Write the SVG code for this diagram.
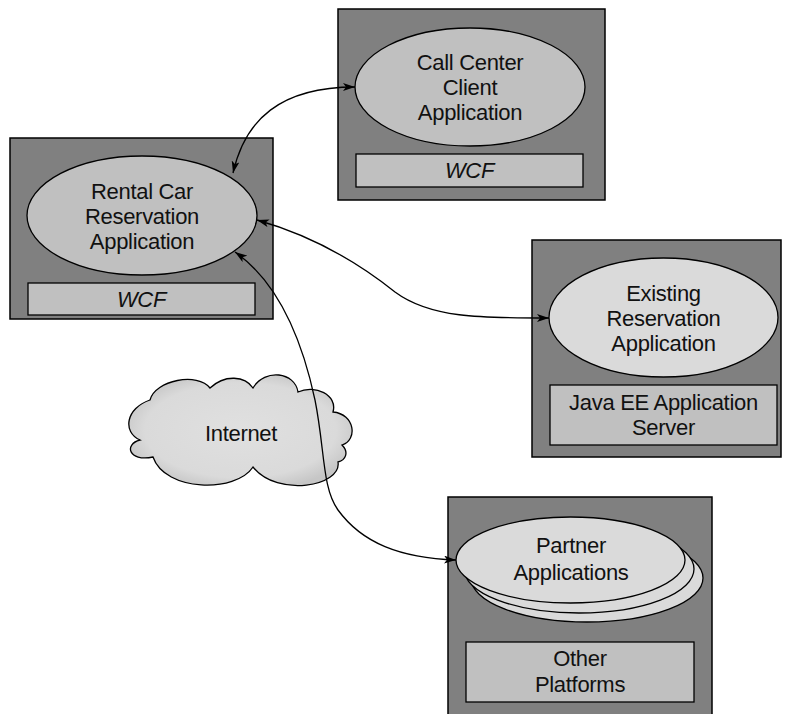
<svg xmlns="http://www.w3.org/2000/svg" width="785" height="714" viewBox="0 0 785 714">
<style>
.box{fill:#808080;stroke:#000;stroke-width:1.5}
.ell{fill:#c0c0c0;stroke:#000;stroke-width:1.3}
.ell2{fill:#dadada;stroke:#000;stroke-width:1.3}
.bar{fill:#c0c0c0;stroke:#000;stroke-width:1.3}
.t{font-family:"Liberation Sans",Arial,sans-serif;font-size:22px;fill:#111;text-anchor:middle;letter-spacing:-0.3px}
.it{font-style:italic}
.conn{fill:none;stroke:#000;stroke-width:1.3;marker-start:url(#ah);marker-end:url(#ah)}
</style>
<defs>
<marker id="ah" viewBox="0 0 12 8" refX="12" refY="4" markerWidth="12" markerHeight="8" orient="auto-start-reverse" markerUnits="userSpaceOnUse">
<path d="M0,0 L12,4 L0,8 L3,4 z" fill="#000"/>
</marker>
<radialGradient id="cloudg" cx="50%" cy="50%" r="55%">
<stop offset="0" stop-color="#e0e0e0"/>
<stop offset="0.78" stop-color="#dadada"/>
<stop offset="1" stop-color="#c6c6c6"/>
</radialGradient>
</defs>

<g id="rental">
<rect class="box" x="10" y="138" width="263" height="181"/>
<ellipse class="ell" cx="142" cy="215.5" rx="115" ry="59.5"/>
<text class="t" x="142" y="198.5">Rental Car</text>
<text class="t" x="142" y="223.5">Reservation</text>
<text class="t" x="142" y="248.5">Application</text>
<rect class="bar" x="28" y="283" width="227" height="32"/>
<text class="t it" x="141.5" y="307">WCF</text>
</g>

<g id="callcenter">
<rect class="box" x="338" y="9" width="267" height="191"/>
<ellipse class="ell" cx="470" cy="87" rx="115" ry="59"/>
<text class="t" x="470" y="70">Call Center</text>
<text class="t" x="470" y="95">Client</text>
<text class="t" x="470" y="120">Application</text>
<rect class="bar" x="356" y="154" width="227" height="33"/>
<text class="t it" x="469.5" y="178">WCF</text>
</g>

<g id="existing">
<rect class="box" x="532" y="240" width="249" height="217"/>
<ellipse class="ell2" cx="663.5" cy="317.5" rx="114.5" ry="59.5"/>
<text class="t" x="663.5" y="300.5">Existing</text>
<text class="t" x="663.5" y="325.5">Reservation</text>
<text class="t" x="663.5" y="350.5">Application</text>
<rect class="bar" x="550" y="385" width="227" height="60"/>
<text class="t" x="663.5" y="410">Java EE Application</text>
<text class="t" x="663.5" y="435">Server</text>
</g>

<g id="partner">
<rect class="box" x="448" y="497" width="264" height="220"/>
<ellipse class="ell2" cx="587" cy="578" rx="116" ry="44"/>
<ellipse class="ell2" cx="579" cy="569" rx="115" ry="44"/>
<ellipse class="ell2" cx="570.5" cy="560" rx="114.5" ry="43"/>
<text class="t" x="571" y="553">Partner</text>
<text class="t" x="571" y="580">Applications</text>
<rect class="bar" x="466" y="642" width="228" height="60"/>
<text class="t" x="580" y="666">Other</text>
<text class="t" x="580" y="692">Platforms</text>
</g>

<g id="internet">
<path d="M140,440 C122,432 126,408 150,400 C155,380 198,372 210,388 C225,374 245,376 253,388 C265,368 295,372 298,392 C315,384 338,395 333,412 C355,414 358,440 342,445 C349,452 346,460 338,462 C342,486 278,498 253,467 C236,493 165,492 153,457 C128,462 124,444 140,440 Z" fill="url(#cloudg)" stroke="#000" stroke-width="1.3"/>
<text class="t" x="241" y="441">Internet</text>
</g>

<g id="connectors">
<path class="conn" d="M233,173 C245,120 280,87 355,87"/>
<path class="conn" d="M257,220 C310,235 355,260 395,292 C430,318 480,318 549,318"/>
<path class="conn" d="M235,252 C275,280 300,330 315,400 C325,450 322,488 338,510 C362,543 400,558 456,560"/>
</g>
</svg>
